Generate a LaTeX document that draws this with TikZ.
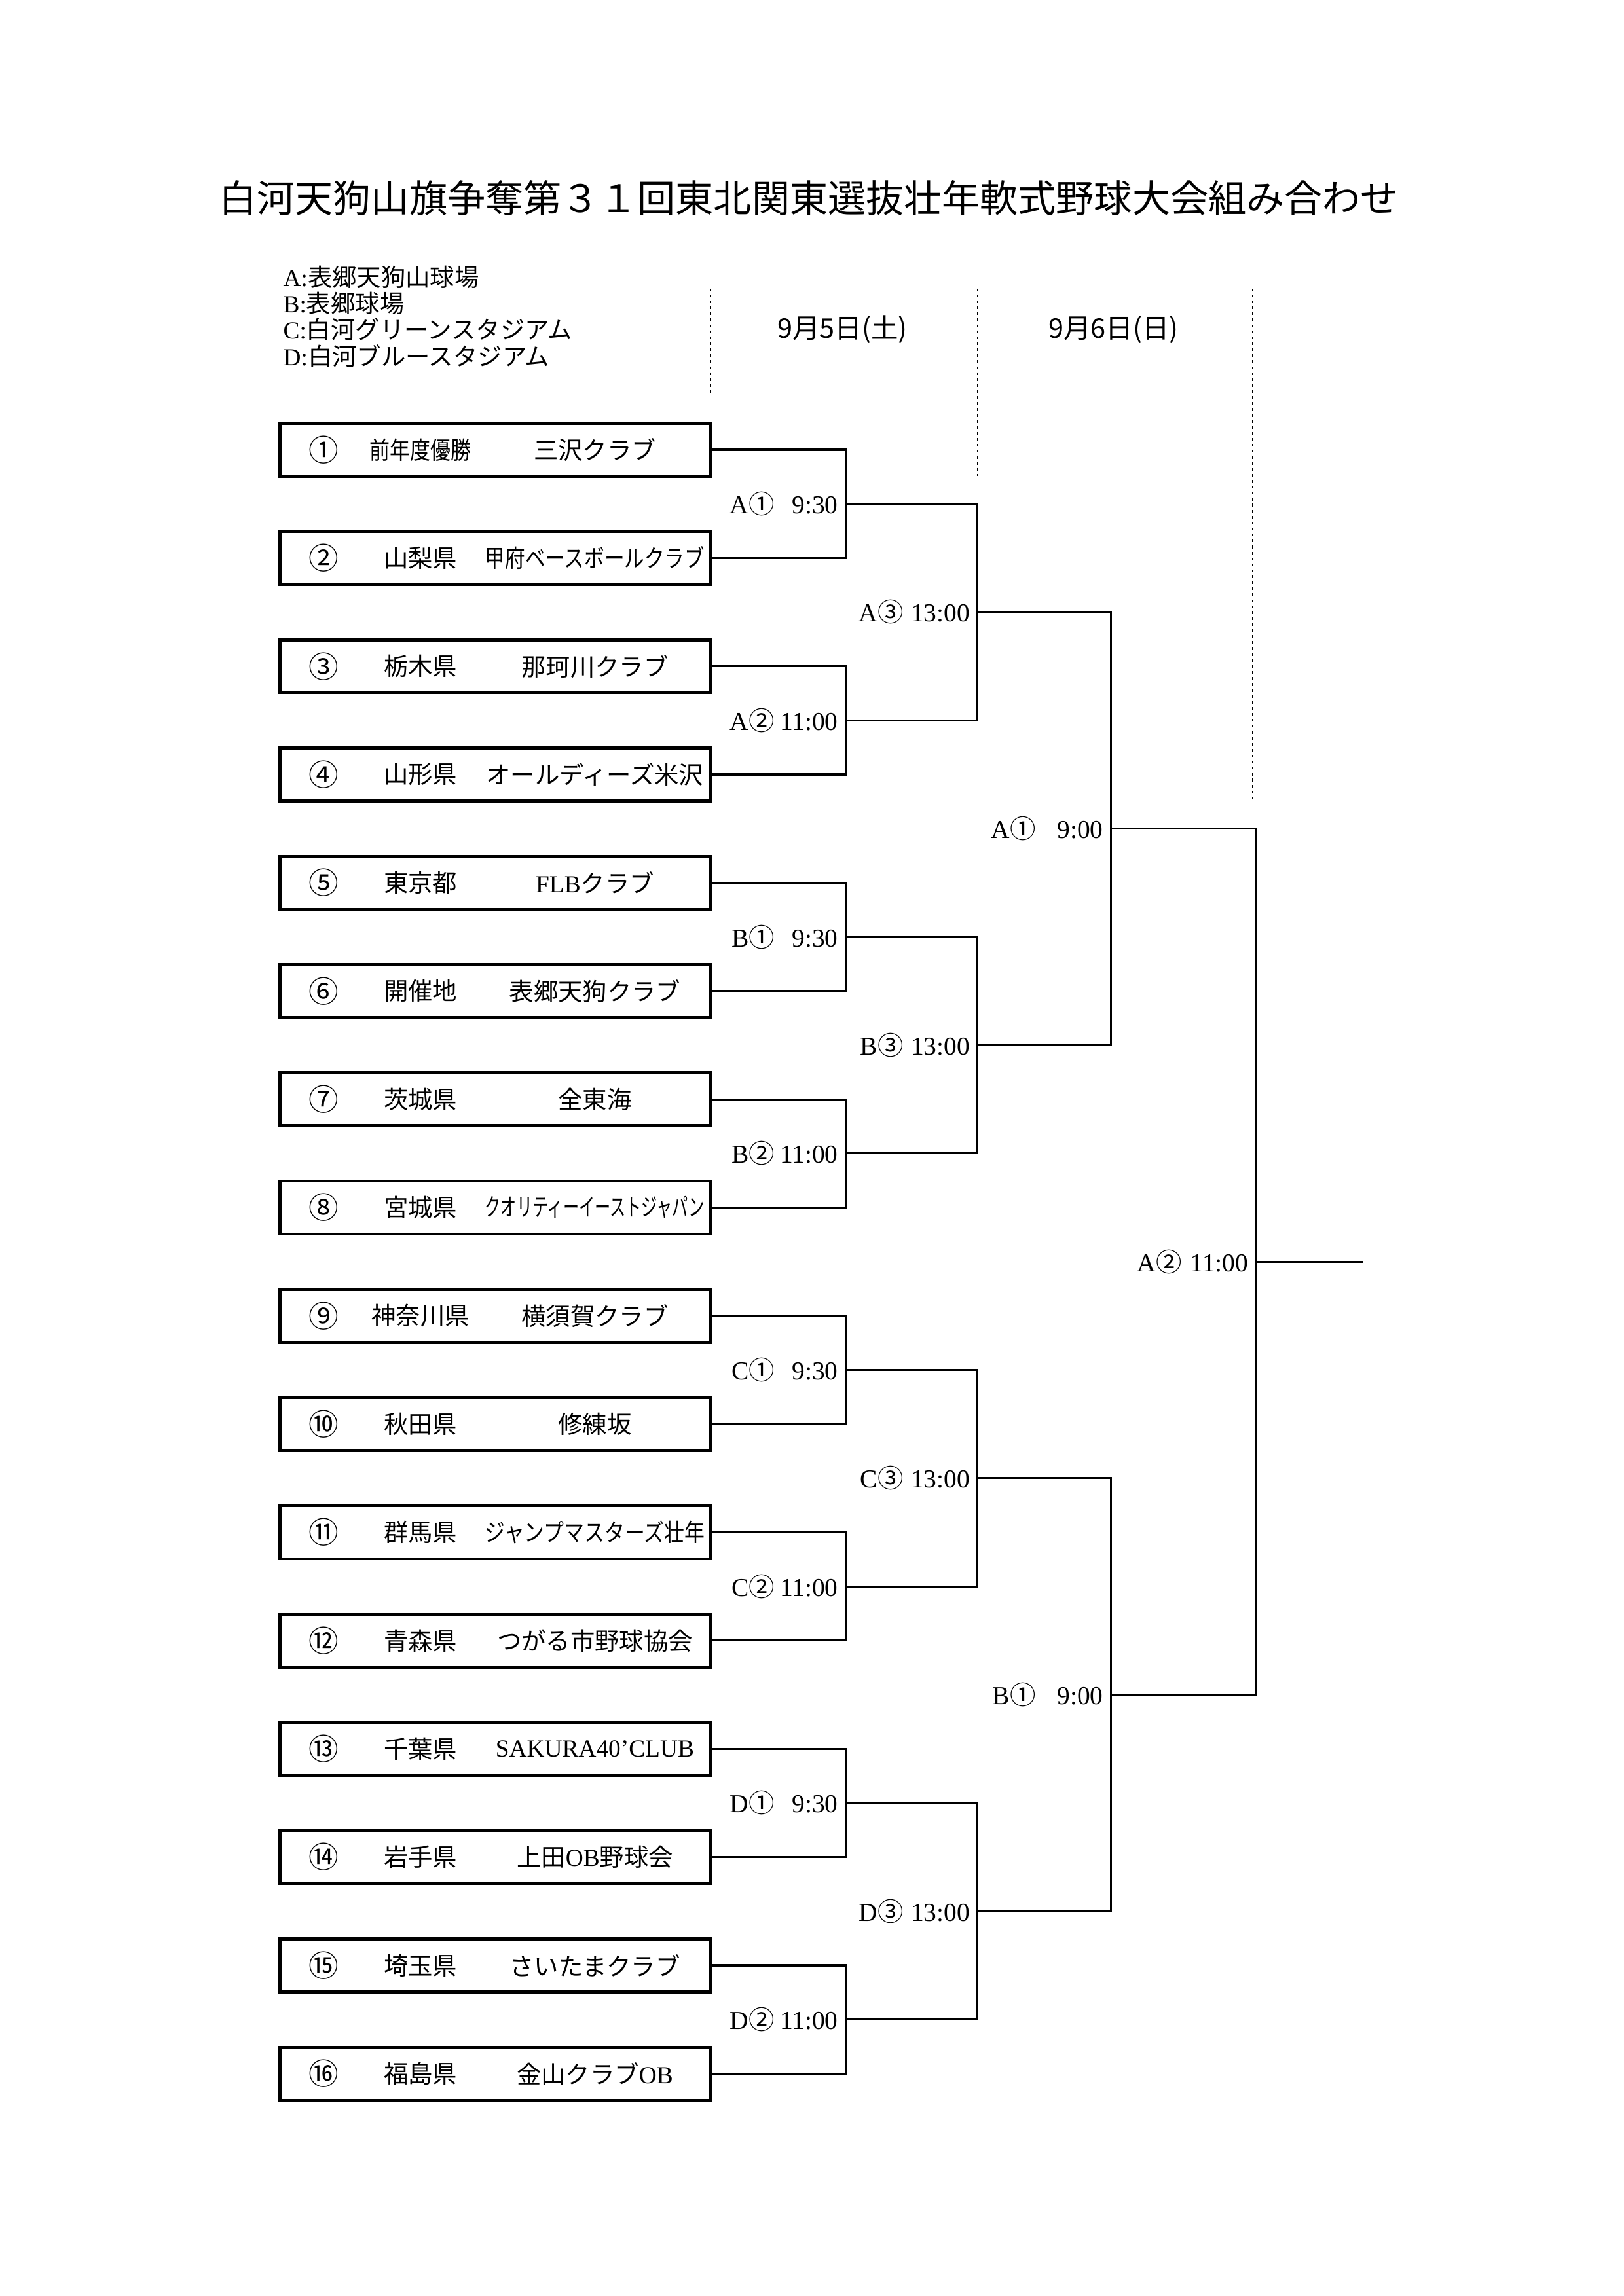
\documentclass[tikz,border=0pt]{standalone}
\usepackage{fontspec}
\usepackage{graphicx}
\setmainfont{Liberation Serif}
\newfontfamily\jp{Noto Sans CJK JP}
\usetikzlibrary{calc}

% squeeze a club name into its column when it is too wide
\newcommand\fitname[1]{\sbox0{#1}\ifdim\wd0>28.4mm\resizebox{28.4mm}{\height}{#1}\else\usebox0\fi}

\begin{document}
\begin{tikzpicture}[x=0.1895mm,y=-0.1895mm,
    teambox/.style={draw,line width=1.1pt,minimum width=55.7mm,minimum height=6.85mm,inner sep=0pt},
    entry/.style={inner sep=0pt,font={\jp\fontsize{9}{11}\selectfont}},
    seed/.style={inner sep=0pt,font={\jp\fontsize{11}{12}\selectfont}},
    bracket/.style={line width=0.75pt},
    daysep/.style={line width=0.4pt,dash pattern=on 1pt off 1.2pt},
    gamelabel/.style={anchor=east,xshift=-0.9mm,inner sep=0pt,font=\fontsize{9.5}{11}\selectfont}]
    \useasboundingbox (0mm,0mm) rectangle (210mm,-297mm);

    % title
    \node[inner sep=0pt,font={\jp\fontsize{14}{16}\selectfont}] (title) at (552,135)
      {白河天狗山旗争奪第３１回東北関東選抜壮年軟式野球大会組み合わせ};

    % venues
    \foreach \l/\txt [count=\r] in {A/表郷天狗山球場,B/表郷球場,C/白河グリーンスタジアム,D/白河ブルースタジアム}
      {\node[anchor=west,inner sep=0pt,font=\fontsize{9}{11}\selectfont] (venue-\l) at (193,{189+(\r-1)*18}) {\l:{\jp\txt}};};

    % day columns
    \draw[daysep] (485,197) -- (485,270);
    \draw[daysep] (667,197) -- (667,325);
    \draw[daysep] (855,197) -- (855,548);
    \node[inner sep=0pt,font={\jp\fontsize{10}{12}\selectfont}] (day-1) at (575,225) {9月5日(土)};
    \node[inner sep=0pt,font={\jp\fontsize{10}{12}\selectfont}] (day-2) at (760,225) {9月6日(日)};

    % teams
    \foreach \i/\num/\pref/\team in {%
        1/①/{\scalebox{0.83}[1]{前年度優勝}}/三沢クラブ,
        2/②/山梨県/甲府ベースボールクラブ,
        3/③/栃木県/那珂川クラブ,
        4/④/山形県/オールディーズ米沢,
        5/⑤/東京都/{{\rmfamily FLB}クラブ},
        6/⑥/開催地/表郷天狗クラブ,
        7/⑦/茨城県/全東海,
        8/⑧/宮城県/クオリティーイーストジャパン,
        9/⑨/神奈川県/横須賀クラブ,
        10/⑩/秋田県/修練坂,
        11/⑪/群馬県/ジャンプマスターズ壮年,
        12/⑫/青森県/つがる市野球協会,
        13/⑬/千葉県/{{\rmfamily SAKURA40’CLUB}},
        14/⑭/岩手県/{上田{\rmfamily OB}野球会},
        15/⑮/埼玉県/さいたまクラブ,
        16/⑯/福島県/{金山クラブ{\rmfamily OB}}} {
      \pgfmathsetmacro\yy{307+(\i-1)*73.9}
      \node[teambox] (team-\i) at (338,\yy) {};
      \node[seed] (num-\i) at (221,\yy) {\num};
      \node[entry] (pref-\i) at (287,\yy) {\pref};
      \node[entry] (club-\i) at (406,\yy) {\fitname{\team}};
    }

    % games
    \foreach \k in {1,...,8} {\coordinate (g1-\k) at (577,{307+(2*\k-1.5)*73.9});}
    \foreach \k in {1,...,4} {\coordinate (g2-\k) at (667,{307+(4*\k-2.5)*73.9});}
    \foreach \k in {1,2} {\coordinate (g3-\k) at (758,{307+(8*\k-4.5)*73.9});}
    \coordinate (g4) at (857,{307+7.5*73.9});
    \coordinate (winner) at (930,{307+7.5*73.9});

    \foreach \k in {1,...,8} {
      \pgfmathtruncatemacro\a{2*\k-1}
      \pgfmathtruncatemacro\b{2*\k}
      \draw[bracket] (team-\a.east) -| (g1-\k) |- (team-\b.east);
    }
    \foreach \k in {1,...,4} {
      \pgfmathtruncatemacro\a{2*\k-1}
      \pgfmathtruncatemacro\b{2*\k}
      \draw[bracket] (g1-\a) -| (g2-\k) |- (g1-\b);
    }
    \foreach \k in {1,2} {
      \pgfmathtruncatemacro\a{2*\k-1}
      \pgfmathtruncatemacro\b{2*\k}
      \draw[bracket] (g2-\a) -| (g3-\k) |- (g2-\b);
    }
    \draw[bracket] (g3-1) -| (g4) |- (g3-2);
    \draw[bracket] (g4) -- (winner);

    % game labels
    \foreach \k/\v/\c/\t in {1/A/①/9:30,2/A/②/11:00,3/B/①/9:30,4/B/②/11:00,
                             5/C/①/9:30,6/C/②/11:00,7/D/①/9:30,8/D/②/11:00}
      {\node[gamelabel] (lab1-\k) at (g1-\k) {\v{\jp\c}\makebox[8.2mm][r]{\t}};}
    \foreach \k/\v in {1/A,2/B,3/C,4/D}
      {\node[gamelabel] (lab2-\k) at (g2-\k) {\v{\jp ③}\makebox[8.6mm][r]{13:00}};}
    \foreach \k/\v in {1/A,2/B}
      {\node[gamelabel] (lab3-\k) at (g3-\k) {\v{\jp ①}\hspace{2.8mm}9:00};}
    \node[gamelabel] (lab4) at (g4) {A{\jp ②}\makebox[8.6mm][r]{11:00}};
\end{tikzpicture}
\end{document}
